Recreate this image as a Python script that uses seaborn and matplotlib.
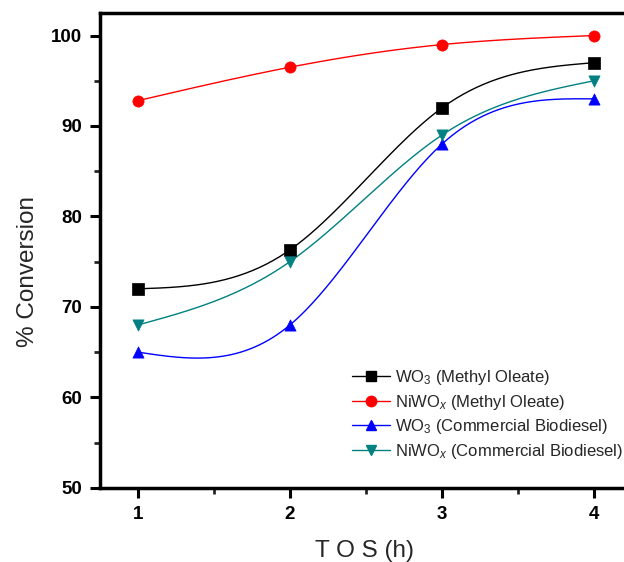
import numpy as np
import pandas as pd
import matplotlib
matplotlib.use("Agg")
import matplotlib.pyplot as plt
from matplotlib.lines import Line2D
from matplotlib.ticker import MultipleLocator
import seaborn as sns

# ------------------ DATA ------------------
tos_hours = [1, 2, 3, 4]
wo3_methyl_oleate = [72.0, 76.3, 92.0, 97.0]
niwox_methyl_oleate = [92.8, 96.5, 99.0, 100.0]
wo3_commercial = [65.0, 68.0, 88.0, 93.0]
niwox_commercial = [68.0, 75.0, 89.0, 95.0]

series_labels = [
    "WO$_3$ (Methyl Oleate)",
    "NiWO$_x$ (Methyl Oleate)",
    "WO$_3$ (Commercial Biodiesel)",
    "NiWO$_x$ (Commercial Biodiesel)",
]
series_values = [wo3_methyl_oleate, niwox_methyl_oleate, wo3_commercial, niwox_commercial]
series_colors = ["#000000", "#FF0000", "#0000FF", "#008080"]
series_markers = ["s", "o", "^", "v"]

# ------------------ STYLE ------------------
sns.set_theme(style="ticks")
plt.rcParams["font.family"] = ["Liberation Sans", "DejaVu Sans"]
plt.rcParams["mathtext.fontset"] = "custom"
plt.rcParams["mathtext.rm"] = "Liberation Sans"
plt.rcParams["mathtext.it"] = "Liberation Sans:italic"


# ------------------ HELPER: NATURAL CUBIC SPLINE (for the connecting line) ------------------
def natural_spline(x, y, n=200):
    x = np.asarray(x, float)
    y = np.asarray(y, float)
    k = len(x)
    h = np.diff(x)
    A = np.zeros((k, k))
    b = np.zeros(k)
    A[0, 0] = A[-1, -1] = 1.0
    for i in range(1, k - 1):
        A[i, i - 1] = h[i - 1]
        A[i, i] = 2 * (h[i - 1] + h[i])
        A[i, i + 1] = h[i]
        b[i] = 6 * ((y[i + 1] - y[i]) / h[i] - (y[i] - y[i - 1]) / h[i - 1])
    M = np.linalg.solve(A, b)
    xs = np.linspace(x[0], x[-1], n)
    idx = np.clip(np.searchsorted(x, xs) - 1, 0, k - 2)
    x0, x1 = x[idx], x[idx + 1]
    hh = x1 - x0
    a = (x1 - xs) / hh
    c = (xs - x0) / hh
    ys = (a * y[idx] + c * y[idx + 1]
          + ((a ** 3 - a) * M[idx] + (c ** 3 - c) * M[idx + 1]) * hh ** 2 / 6)
    return xs, ys


# ------------------ PLOT ------------------
fig = plt.figure(figsize=(6.24, 5.62), dpi=100)
ax = fig.add_axes([0.160, 0.132, 0.865, 0.845])

handles = []
for label, vals, color, marker in zip(series_labels, series_values, series_colors, series_markers):
    xs, ys = natural_spline(tos_hours, vals)
    smooth_df = pd.DataFrame({"x": xs, "y": ys})
    sns.lineplot(data=smooth_df, x="x", y="y", ax=ax, color=color, lw=1.0,
                 sort=False, legend=False, zorder=2)
    point_df = pd.DataFrame({"x": tos_hours, "y": vals})
    sns.scatterplot(data=point_df, x="x", y="y", ax=ax, color=color, marker=marker,
                    s=65, edgecolor=color, linewidth=0.5, legend=False, zorder=3)
    handles.append(Line2D([0], [0], color=color, lw=1.0, marker=marker,
                          markersize=7.5, markeredgecolor=color, label=label))

ax.set_xlim(0.75, 4.3)
ax.set_ylim(50, 102.5)
ax.xaxis.set_major_locator(MultipleLocator(1))
ax.xaxis.set_minor_locator(MultipleLocator(0.5))
ax.yaxis.set_major_locator(MultipleLocator(10))
ax.yaxis.set_minor_locator(MultipleLocator(5))

for side in ["left", "bottom", "top"]:
    ax.spines[side].set_linewidth(2.5)
    ax.spines[side].set_color("black")
ax.spines["right"].set_visible(False)

ax.tick_params(which="major", direction="out", length=7, width=2.2, labelsize=13.5,
               colors="black", pad=6, top=False, right=False)
ax.tick_params(which="minor", direction="out", length=4.5, width=2.0,
               top=False, right=False)
for lbl in ax.get_xticklabels() + ax.get_yticklabels():
    lbl.set_fontweight("bold")

ax.set_xlabel("T O S (h)", fontsize=17.5, labelpad=12)
ax.set_ylabel("% Conversion", fontsize=17.5, labelpad=8)
ax.yaxis.set_label_coords(-0.112, 0.455)
ax.xaxis.set_label_coords(0.49, -0.11)

ax.legend(handles=handles, loc="lower left", bbox_to_anchor=(0.455, 0.043),
          frameon=False, fontsize=12, handlelength=2.3, handletextpad=0.3,
          labelspacing=0.33, borderaxespad=0)

fig.savefig("out.png", dpi=100)
plt.close(fig)
